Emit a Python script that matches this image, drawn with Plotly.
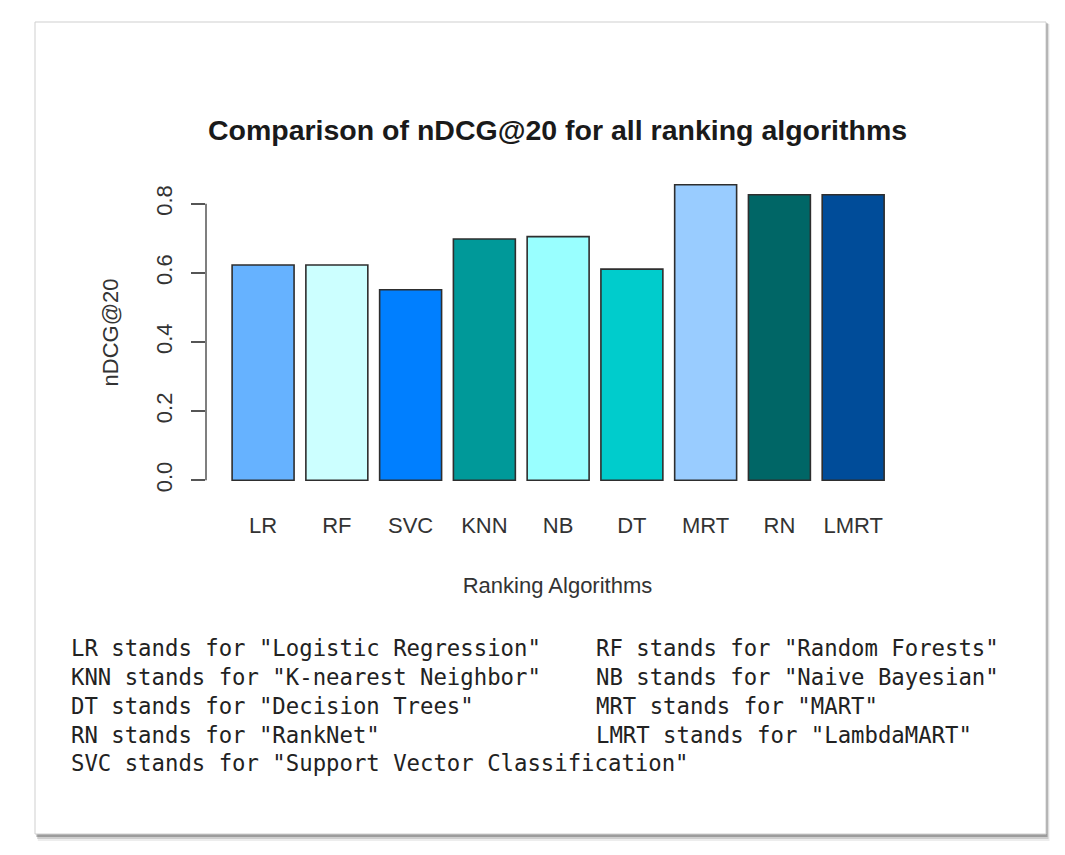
import plotly.graph_objects as go

# ---------------- données ----------------
algos = ["LR", "RF", "SVC", "KNN", "NB", "DT", "MRT", "RN", "LMRT"]
ndcg20 = [0.623, 0.623, 0.551, 0.698, 0.705, 0.611, 0.855, 0.826, 0.826]
bar_colors = ["#66B2FF", "#CCFFFF", "#007FFF", "#009999", "#99FFFF",
              "#00CCCC", "#99CCFF", "#006666", "#004C99"]
y_ticks = [0.0, 0.2, 0.4, 0.6, 0.8]

notes_left = ['LR stands for "Logistic Regression"',
              'KNN stands for "K-nearest Neighbor"',
              'DT stands for "Decision Trees"',
              'RN stands for "RankNet"',
              'SVC stands for "Support Vector Classification"']
notes_right = ['RF stands for "Random Forests"',
               'NB stands for "Naive Bayesian"',
               'MRT stands for "MART"',
               'LMRT stands for "LambdaMART"']

# la page ajoute une marge de 8 px autour de la figure
PAD = 8
W, H = 1065 - 2 * PAD, 855 - 2 * PAD
SANS = "Liberation Sans, Arial, sans-serif"
MONO = "DejaVu Sans Mono, Liberation Mono, monospace"


def px_x(p):
    return (p - PAD) / W


def px_y(p):
    return 1 - (p - PAD) / H


fig = go.Figure()
fig.add_trace(go.Bar(
    x=algos, y=ndcg20,
    marker=dict(color=bar_colors, line=dict(color="#2e2e2e", width=1.6)),
    hovertemplate="%{x}: %{y:.3f}<extra></extra>"))

# ---------------- cadre avec ombre portée ----------------
shapes = []
for off, op in [(7, 0.07), (5, 0.13), (3, 0.24)]:
    shapes.append(dict(type="rect", xref="paper", yref="paper", layer="below",
                       x0=px_x(35 + off * 0.4), x1=px_x(1046 + off * 0.5),
                       y0=px_y(834 + off), y1=px_y(22 + off * 0.3),
                       fillcolor="rgba(0,0,0,%s)" % op, line=dict(width=0)))
shapes.append(dict(type="rect", xref="paper", yref="paper", layer="below",
                   x0=px_x(35), x1=px_x(1046), y0=px_y(834), y1=px_y(22),
                   fillcolor="white", line=dict(color="#cfcfcf", width=1)))
# axe y façon R : trait seulement de 0 à 0.8
shapes.append(dict(type="line", xref="x domain", yref="y", x0=0, x1=0,
                   y0=y_ticks[0], y1=y_ticks[-1],
                   line=dict(color="#555555", width=1.5)))

annotations = []
line_y = [648, 677, 706, 735, 763]
for i, txt in enumerate(notes_left):
    annotations.append(dict(xref="paper", yref="paper", x=px_x(69), y=px_y(line_y[i]),
                            xanchor="left", yanchor="middle", showarrow=False,
                            text=txt, font=dict(family=MONO, size=22.3, color="#222222")))
for i, txt in enumerate(notes_right):
    annotations.append(dict(xref="paper", yref="paper", x=px_x(594), y=px_y(line_y[i]),
                            xanchor="left", yanchor="middle", showarrow=False,
                            text=txt, font=dict(family=MONO, size=22.3, color="#222222")))

fig.update_layout(
    width=W, height=H,
    margin=dict(l=0, r=0, t=0, b=0),
    paper_bgcolor="white", plot_bgcolor="rgba(0,0,0,0)",
    showlegend=False, bargap=0.16,
    title=dict(text="<b>Comparison of nDCG@20 for all ranking algorithms</b>",
               x=px_x(557.5), xref="paper", xanchor="center",
               y=px_y(130), yanchor="middle",
               font=dict(family=SANS, size=28.5, color="#1a1a1a")),
    xaxis=dict(domain=[px_x(206), px_x(909)], range=[-0.774, 8.757],
               showline=False, showgrid=False, zeroline=False, ticks="",
               ticklabelstandoff=18,
               tickfont=dict(family=SANS, size=22, color="#333333"),
               title=dict(text="Ranking Algorithms", standoff=40,
                          font=dict(family=SANS, size=22, color="#333333"))),
    yaxis=dict(domain=[px_y(492), px_y(173)], range=[-0.034, 0.889],
               showline=False, showgrid=False, zeroline=False,
               tickvals=y_ticks, tickformat=".1f", tickangle=-90,
               ticks="outside", ticklen=14, tickwidth=1.5, tickcolor="#555555",
               ticklabelstandoff=10,
               tickfont=dict(family=SANS, size=22, color="#333333"),
               title=dict(text="nDCG@20", standoff=27,
                          font=dict(family=SANS, size=22, color="#333333"))),
    shapes=shapes, annotations=annotations)

fig.write_html("out.html")
